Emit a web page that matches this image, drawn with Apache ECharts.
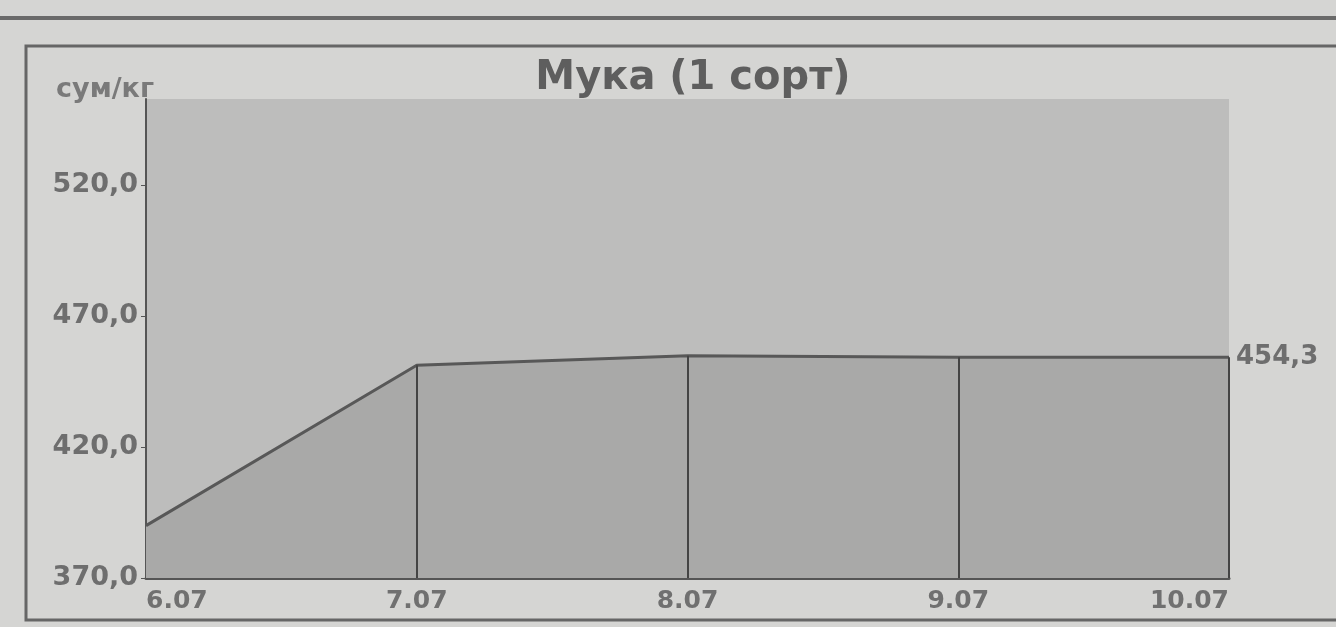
<!DOCTYPE html>
<html>
<head>
<meta charset="utf-8">
<script src="https://cdn.jsdelivr.net/npm/echarts@6/dist/echarts.min.js"></script>
<style>
  html, body { margin: 0; padding: 0; background: #d5d5d3; }
  #chart { width: 1336px; height: 627px; }
</style>
</head>
<body>
<div id="chart"></div>
<script>
// даты (категории) и цена, сум/кг
const days = ['6.07', '7.07', '8.07', '9.07', '10.07']
const prices = [390.0, 451.3, 454.9, 454.3, 454.3]
const yTicks = [370, 420, 470, 520]

const fmt = (v) => v.toFixed(1).replace('.', ',')
const FONT = 'DejaVu Sans'

const chart = echarts.init(document.getElementById('chart'))

// вертикальные линии от точки вниз до оси
const drops = days.slice(1).map((d, i) => [
  { coord: [d, prices[i + 1]] },
  { coord: [d, 370] },
])

chart.setOption({
  backgroundColor: '#d5d5d3',
  animation: false,
  graphic: [
    { type: 'rect', shape: { x: -10, y: 16, width: 1360, height: 4 }, style: { fill: '#6a6a6a' } },
    { type: 'rect', shape: { x: 26, y: 46, width: 1330, height: 574 }, style: { fill: 'none', stroke: '#666', lineWidth: 3 } },
  ],
  title: {
    text: 'Мука (1 сорт)',
    left: 688,
    top: 54,
    textAlign: 'center',
    textStyle: { fontFamily: FONT, fontSize: 40, fontWeight: 'bold', color: '#5e5e5e' },
  },
  grid: {
    left: 146,
    right: 107,
    top: 99,
    bottom: 49,
    show: true,
    backgroundColor: '#bdbdbc',
    borderWidth: 0,
  },
  xAxis: {
    type: 'category',
    data: days,
    boundaryGap: false,
    axisLine: { lineStyle: { color: '#555', width: 3 } },
    axisTick: { show: false },
    axisLabel: {
      color: '#707070',
      fontFamily: FONT,
      fontSize: 25,
      fontWeight: 'bold',
      margin: 11,
      alignMinLabel: 'left',
      alignMaxLabel: 'right',
    },
    splitLine: { show: false },
  },
  yAxis: {
    type: 'value',
    min: 370,
    max: 553,
    name: 'сум/кг',
    nameLocation: 'end',
    nameGap: -4,
    nameTextStyle: { color: '#7a7a7a', fontFamily: FONT, fontSize: 27, fontWeight: 'bold', align: 'right', padding: [0, -8, 0, 0] },
    axisLine: { show: true, lineStyle: { color: '#555', width: 2 } },
    axisTick: { show: true, length: 5, customValues: yTicks, lineStyle: { color: '#555' } },
    axisLabel: {
      customValues: yTicks,
      formatter: fmt,
      color: '#6e6e6e',
      fontFamily: FONT,
      fontSize: 27,
      fontWeight: 'bold',
      margin: 8,
    },
    splitLine: { show: false },
  },
  series: [
    {
      type: 'line',
      data: prices,
      symbol: 'none',
      lineStyle: { color: '#585858', width: 3 },
      areaStyle: { color: '#a9a9a8', opacity: 1, origin: 'start' },
      endLabel: {
        show: true,
        formatter: (p) => fmt(p.value),
        color: '#6e6e6e',
        fontFamily: FONT,
        fontSize: 26,
        fontWeight: 'bold',
        distance: 7,
      },
      markLine: {
        silent: true,
        symbol: 'none',
        label: { show: false },
        lineStyle: { color: '#444', width: 2, type: 'solid' },
        data: drops,
      },
    },
  ],
})
</script>
</body>
</html>
